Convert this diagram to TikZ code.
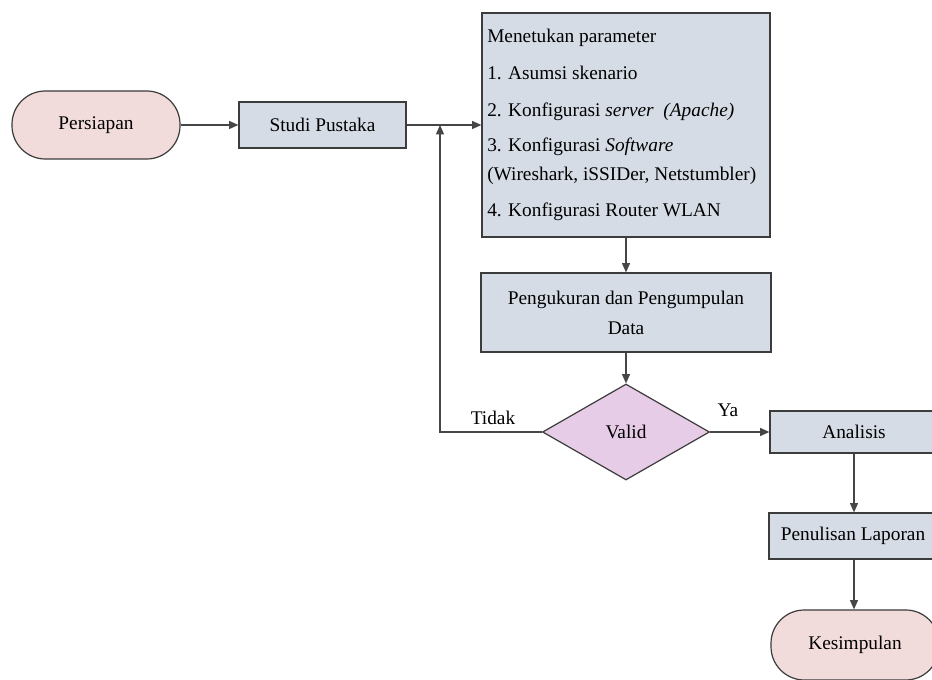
\documentclass[tikz,border=0pt]{standalone}
\usepackage{fontspec}
\setmainfont{Liberation Serif}
\usetikzlibrary{arrows.meta,shapes.geometric}
\definecolor{pinkfill}{RGB}{242,220,219}
\definecolor{bluefill}{RGB}{214,220,229}
\definecolor{violetfill}{RGB}{230,204,230}
\definecolor{edge}{RGB}{60,60,60}
\definecolor{conn}{RGB}{70,70,70}
\begin{document}
\begin{tikzpicture}[x=0.75pt,y=-0.75pt,
  every node/.style={font=\fontsize{14.5}{17}\selectfont, text=black},
  terminal/.style={draw=edge, line width=0.9pt, fill=pinkfill, rectangle, rounded corners=25pt, inner sep=0pt},
  procbox/.style={draw=edge, line width=0.9pt, fill=bluefill, rectangle, inner sep=0pt},
  decision/.style={draw=edge, line width=0.9pt, fill=violetfill, diamond, inner sep=0pt},
  txt/.style={inner sep=0pt, anchor=base west},
  lbl/.style={inner sep=0pt},
  conn/.style={draw=conn, line width=0.9pt, -{Triangle[length=7pt,width=6pt]}},
  plain/.style={draw=conn, line width=0.9pt}
]
\useasboundingbox (0,0) rectangle (932,680);
\clip (0,0) rectangle (932,680);
\fill[white] (0,0) rectangle (932,680);

\node[terminal, minimum width=126pt, minimum height=51pt] (persiapan) at (96,125) {Persiapan};
\node[procbox, minimum width=125.25pt, minimum height=34.5pt] (studi) at (322.5,125) {Studi Pustaka};
\node[procbox, minimum width=216pt, minimum height=168pt] (param) at (626,125) {};
\node[txt] (p0) at (487,43) {Menetukan parameter};
\node[txt] (p1) at (487,80) {1. Asumsi skenario};
\node[txt] (p2) at (487,117) {2. Konfigurasi \textit{server}~~\textit{(Apache)}};
\node[txt] (p3) at (487,152) {3. Konfigurasi \textit{Software}};
\node[txt] (p4) at (487,181) {(Wireshark, iSSIDer, Netstumbler)};
\node[txt] (p5) at (487,217) {4. Konfigurasi Router WLAN};

\node[procbox, minimum width=217.5pt, minimum height=59.25pt, align=center,
      font=\fontsize{14.5}{22.5}\selectfont] (ukur) at (626,312.5) {Pengukuran dan Pengumpulan\\Data};
\node[decision, minimum width=125.25pt, minimum height=72pt] (valid) at (626,432) {Valid};
\node[procbox, minimum width=126pt, minimum height=31.5pt] (analisis) at (854,432) {Analisis};
\node[procbox, minimum width=126pt, minimum height=34.5pt] (tulis) at (853,536) {Penulisan Laporan};
\node[terminal, minimum width=126pt, minimum height=52.5pt] (simpul) at (855,645) {Kesimpulan};

\coordinate (j) at (440,125);
\node[lbl] (tidak) at (493,418) {Tidak};
\node[lbl] (ya) at (728,410) {Ya};

\draw[conn] (persiapan.east) -- (studi.west);
\draw[conn] (studi.east) -- (param.west);
\draw[conn] (valid.west) -| (j);
\draw[conn] (param.south) -- (ukur.north);
\draw[conn] (ukur.south) -- (valid.north);
\draw[conn] (valid.east) -- (analisis.west);
\draw[conn] (analisis.south) -- (analisis.south |- tulis.north);
\draw[conn] (analisis.south |- tulis.south) -- (analisis.south |- simpul.north);
\end{tikzpicture}
\end{document}
